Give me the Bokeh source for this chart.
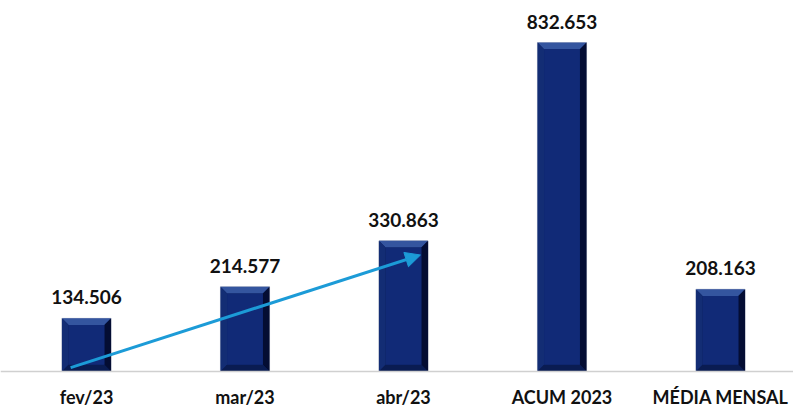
from bokeh.plotting import figure
from bokeh.models import Range1d, Span, Arrow, NormalHead
from bokeh.core.properties import value
from bokeh.embed import file_html
from bokeh.resources import INLINE

categories = ["fev/23", "mar/23", "abr/23", "ACUM 2023", "MÉDIA MENSAL"]
values = [134.506, 214.577, 330.863, 832.653, 208.163]
value_labels = ["134.506", "214.577", "330.863", "832.653", "208.163"]

W, H = 793, 408
p = figure(width=W, height=H, output_backend="svg", toolbar_location=None,
           x_range=Range1d(-0.5426, 4.4606), y_range=Range1d(-93.6, 939.0),
           min_border=0, min_border_left=0, min_border_right=0,
           min_border_top=0, min_border_bottom=0)
p.axis.visible = False
p.grid.visible = False
p.outline_line_color = None
p.background_fill_color = "white"
p.border_fill_color = "white"

xs = list(range(len(values)))
bw = 0.31
dx = 0.042   # bevel (x units)
dy = 17.0    # bevel (y units)

# outer bar
p.vbar(x=xs, top=values, bottom=0, width=bw, fill_color="#0a1d5a",
       line_color="#c4c9d4", line_width=1)

# bevel sides
top_x, top_y, left_x, left_y, right_x, right_y, bot_x, bot_y = ([] for _ in range(8))
for i, v in zip(xs, values):
    l, r = i - bw / 2, i + bw / 2
    top_x.append([l, r, r - dx, l + dx]); top_y.append([v, v, v - dy, v - dy])
    left_x.append([l, l + dx, l + dx, l]); left_y.append([v, v - dy, dy, 0])
    right_x.append([r, r - dx, r - dx, r]); right_y.append([v, v - dy, dy, 0])
    bot_x.append([l, r, r - dx, l + dx]); bot_y.append([0, 0, dy, dy])
p.patches(top_x, top_y, fill_color="#34559f", line_color=None)
p.patches(left_x, left_y, fill_color="#132d74", line_color=None)
p.patches(right_x, right_y, fill_color="#040d33", line_color=None)
p.patches(bot_x, bot_y, fill_color="#0a1c52", line_color=None)
# inner face
p.vbar(x=xs, top=[v - dy for v in values], bottom=dy, width=bw - 2 * dx,
       fill_color="#112a77", line_color=None)

# baseline
p.add_layout(Span(location=0, dimension="width", line_color="#d0d0d0", line_width=1.5))

# value labels
p.text(x=xs, y=[v + 53.0 for v in values], text=value_labels,
       text_font=value("Lato"), text_font_style="bold", text_font_size="19px",
       text_color="#111111", text_align="center", text_baseline="middle")

# category labels
p.text(x=xs, y=[-63.5] * len(xs), text=categories,
       text_font=value("Lato"), text_font_style="bold", text_font_size="18px",
       text_color="#111111", text_align="center", text_baseline="middle")

# trend arrow fev -> abr
p.add_layout(Arrow(x_start=xs[0] - 0.10, y_start=10, x_end=xs[2] + 0.107, y_end=values[2] - 36,
                   line_color="#1c9bd7", line_width=3,
                   end=NormalHead(size=15, fill_color="#1c9bd7", line_color="#1c9bd7")))

open("out.html", "w").write(file_html(p, INLINE))
